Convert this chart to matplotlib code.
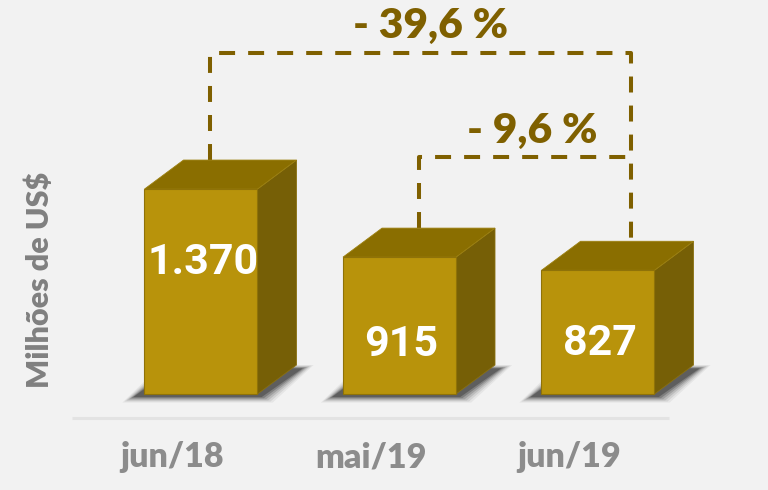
import matplotlib
matplotlib.use("Agg")
import matplotlib.pyplot as plt
from matplotlib.patches import Polygon

# ---- data ----
categories = ["jun/18", "mai/19", "jun/19"]
values = [1370, 915, 827]
value_labels = ["1.370", "915", "827"]
label_frac = [0.64, 0.36, 0.41]          # label height as fraction of bar value
pct_big = "- 39,6 %"
pct_small = "- 9,6 %"
ylabel = "Milhões de US$"

# ---- style ----
BG = "#F2F2F2"
FRONT = "#B8930B"
TOP = "#8A6E00"
SIDE = "#765F06"
BROWN = "#7F6000"
GRAY = "#8C8C8C"

W, H = 768, 490
fig = plt.figure(figsize=(W / 100, H / 100), dpi=100, facecolor=BG)
ax = fig.add_axes([0, 0, 1, 1])
ax.set_facecolor(BG)
ax.axis("off")

# pixel <-> data mapping (category spacing 198.5 px, 0.1496 px per unit)
px_per_cat = 198.5
px_per_val = 0.1496
x0_px, y0_px = 201, 394
ax.set_xlim((0 - x0_px) / px_per_cat, (W - x0_px) / px_per_cat)
ax.set_ylim((y0_px - H) / px_per_val, y0_px / px_per_val)

hw = 113 / 2 / px_per_cat
dx = 39 / px_per_cat
dy = 29 / px_per_val

# baseline
ax.plot([(72 - x0_px) / px_per_cat, (669 - x0_px) / px_per_cat],
        [(y0_px - 418) / px_per_val] * 2, color="#E3E3E3", lw=2.2, zorder=1,
        solid_capstyle="butt")

# dashed brackets
plt.rcParams["lines.scale_dashes"] = False
level_big = (y0_px - 53) / px_per_val
level_small = (y0_px - 157) / px_per_val
xa = 0 + 0.045
xb = 1 + 0.10
xc = 2 + 0.166
dash_kw = dict(color=BROWN, lw=2.9, dashes=(11.5, 9.4), zorder=2,
               dash_capstyle="butt", solid_joinstyle="miter")
ax.plot([xa, xa, xc, xc],
        [values[0] + dy, level_big, level_big, values[2] + dy], **dash_kw)
ax.plot([xb, xb, xc],
        [values[1] + dy, level_small, level_small], **dash_kw)

# 3D bars
pv = 1 / px_per_val
pc = 1 / px_per_cat
for i, v in enumerate(values):
    l, r = i - hw, i + hw
    # soft shadow (layers of decreasing size, increasing darkness)
    for k, a in enumerate([0.05, 0.08, 0.11, 0.15, 0.20, 0.26]):
        e = (6 - k) * 2.2
        shadow = [(l - (9 + e) * pc, -(2 + e * 0.5) * pv),
                  (r + (2 + e) * pc, -(2 + e * 0.5) * pv),
                  (r + dx + (4 + e) * pc, dy + (e * 0.3 - 4) * pv),
                  (l + dx - (9 + e) * pc, dy + (e * 0.3 - 4) * pv)]
        ax.add_patch(Polygon(shadow, closed=True, facecolor="black",
                             edgecolor="none", alpha=a, zorder=3))
    front = [(l, 0), (r, 0), (r, v), (l, v)]
    top = [(l, v), (r, v), (r + dx, v + dy), (l + dx, v + dy)]
    side = [(r, 0), (r + dx, dy), (r + dx, v + dy), (r, v)]
    ax.add_patch(Polygon(side, closed=True, facecolor=SIDE, edgecolor="#8A7010",
                         lw=0.6, zorder=4))
    ax.add_patch(Polygon(top, closed=True, facecolor=TOP, edgecolor="#9C8010",
                         lw=0.6, zorder=4))
    ax.add_patch(Polygon(front, closed=True, facecolor=FRONT, edgecolor="#8F7208",
                         lw=0.8, zorder=5))
    ax.text(i + 0.01, v * label_frac[i], value_labels[i], color="white",
            fontsize=31, fontweight="bold", family="Roboto",
            ha="center", va="center", zorder=6)
    ax.text(i - 0.145, (y0_px - 457) / px_per_val, categories[i], color=GRAY,
            fontsize=24.5, fontweight="heavy", family="Lato",
            ha="center", va="center", zorder=6)

# percentage labels
ax.text((431 - x0_px) / px_per_cat, (y0_px - 26) / px_per_val, pct_big,
        color=BROWN, fontsize=30.5, fontweight="heavy", family="Lato",
        ha="center", va="center")
ax.text((532 - x0_px) / px_per_cat, (y0_px - 131) / px_per_val, pct_small,
        color=BROWN, fontsize=30.5, fontweight="heavy", family="Lato",
        ha="center", va="center")

# y label
ax.text((40 - x0_px) / px_per_cat, (y0_px - 280) / px_per_val, ylabel,
        color="#808080", fontsize=22, fontweight="heavy", family="Lato",
        rotation=90, ha="center", va="center")

fig.savefig("out.png", dpi=100, facecolor=BG)
